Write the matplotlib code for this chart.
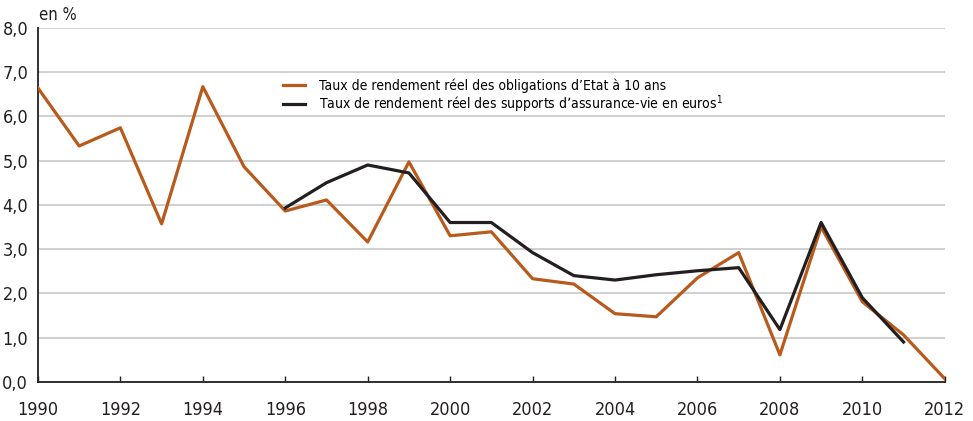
import matplotlib
matplotlib.use("Agg")
import matplotlib.pyplot as plt
import numpy as np

plt.rcParams['font.family'] = ['DejaVu Sans']
plt.rcParams['font.stretch'] = 'condensed'

# Taux de rendement réel des obligations d'Etat à 10 ans
years_oat = list(range(1990, 2013))
oat = [6.64, 5.33, 5.74, 3.57, 6.67, 4.86, 3.86, 4.11, 3.16, 4.97,
       3.30, 3.39, 2.33, 2.21, 1.54, 1.47, 2.35, 2.92, 0.61, 3.50,
       1.81, 1.06, 0.07]

# Taux de rendement réel des supports d'assurance-vie en euros
years_av = list(range(1996, 2012))
av = [3.93, 4.50, 4.90, 4.72, 3.60, 3.60, 2.92, 2.40, 2.30, 2.42,
      2.51, 2.58, 1.18, 3.60, 1.90, 0.90]

xticks = list(range(1990, 2013, 2))
yticks = np.arange(0, 9, 1)

orange = '#b85a1c'
dark = '#231f20'

fig = plt.figure(figsize=(9.73, 4.21), dpi=100)
ax = fig.add_axes([0.039, 0.093, 0.932, 0.841])

ax.plot(years_oat, oat, color=orange, lw=2.3,
        label="Taux de rendement réel des obligations d’Etat à 10 ans", zorder=3)
ax.plot(years_av, av, color=dark, lw=2.3,
        label="Taux de rendement réel des supports d’assurance-vie en euros$^{1}$", zorder=4)

ax.set_xlim(1990, 2012)
ax.set_ylim(0, 8)
ax.set_xticks(xticks)
ax.set_yticks(yticks)
ax.set_yticklabels([f"{v:.1f}".replace('.', ',') for v in yticks])
ax.grid(axis='y', color='#c8c8c8', lw=1.2)
ax.set_axisbelow(True)

for s in ['top', 'right']:
    ax.spines[s].set_visible(False)
for s in ['left', 'bottom']:
    ax.spines[s].set_color('#231f20')
    ax.spines[s].set_linewidth(1.3)

ax.tick_params(axis='y', length=0, pad=7, labelsize=13, colors='#231f20')
ax.tick_params(axis='x', direction='in', length=4, width=1, pad=14,
               labelsize=13, colors='#231f20')

ax.text(0.001, 1.012, "en %", transform=ax.transAxes, fontsize=12,
        color='#231f20', ha='left', va='bottom')

leg = ax.legend(loc='upper left', bbox_to_anchor=(0.264, 0.872), frameon=False,
                fontsize=10, handlelength=1.6, handletextpad=1.0,
                labelspacing=0.0, borderaxespad=0)

fig.savefig('out.png', dpi=100)
